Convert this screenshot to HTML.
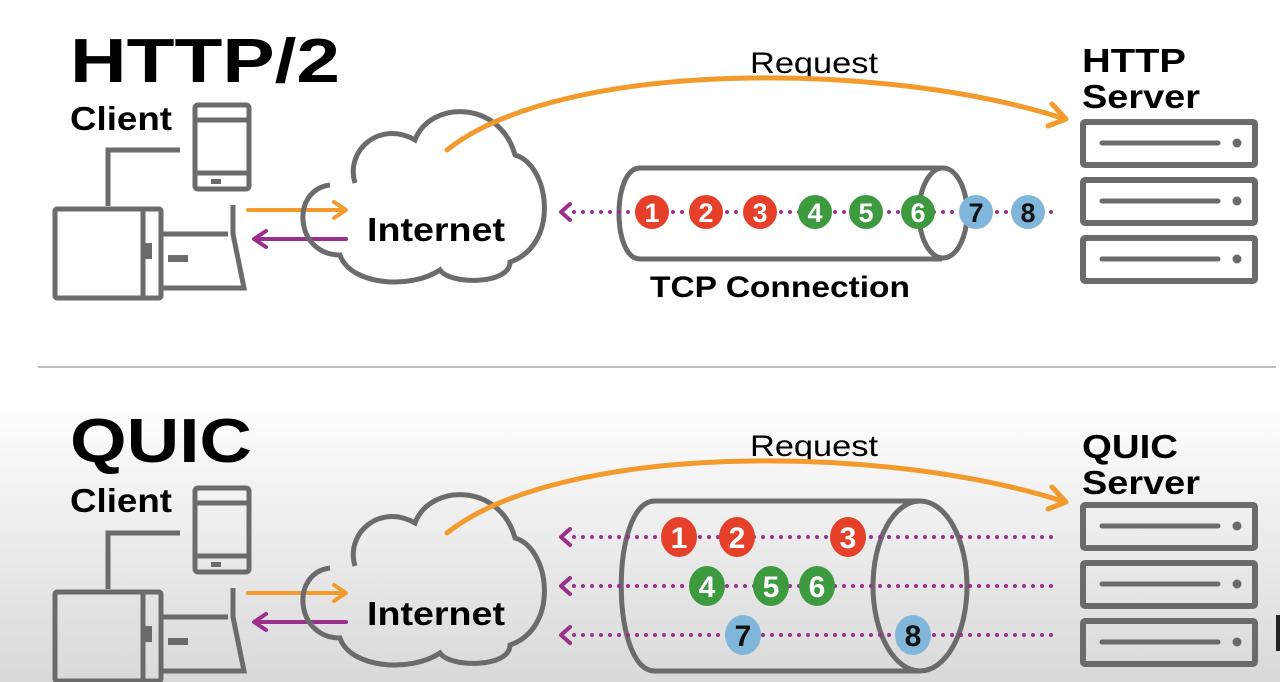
<!DOCTYPE html>
<html><head><meta charset="utf-8"><style>
html,body{margin:0;padding:0;width:1280px;height:682px;overflow:hidden;background:#fff}
svg{display:block}
text{font-family:"Liberation Sans",sans-serif}
</style></head><body>
<svg width="1280" height="682" viewBox="0 0 1280 682" xmlns="http://www.w3.org/2000/svg">
<defs>
<linearGradient id="bg" x1="0" y1="0" x2="0" y2="1">
<stop offset="0" stop-color="#ffffff"/><stop offset="1" stop-color="#d9d9d9"/>
</linearGradient>
<g id="client" fill="none" stroke="#6b6b6b" stroke-width="5">
<rect x="195" y="105" width="54" height="84" rx="3"/>
<line x1="195" y1="120" x2="249" y2="120"/>
<line x1="195" y1="173" x2="249" y2="173"/>
<rect x="211" y="179" width="10" height="5" fill="#6b6b6b" stroke="none"/>
<polyline points="180,150 108,150 108,206"/>
<rect x="55" y="209" width="106" height="89" rx="2"/>
<line x1="143" y1="209" x2="143" y2="298"/>
<rect x="143" y="243" width="9" height="16" fill="#6b6b6b" stroke="none"/>
<polyline points="163,234 228,234"/>
<polyline points="233,205 233,234 244,288 163,288"/>
<rect x="168" y="255" width="20" height="7" fill="#6b6b6b" stroke="none"/>
<path d="M248 210 H344 M334 202 L346 210 L334 218" stroke="#f39a2c" stroke-width="4" stroke-linecap="round" stroke-linejoin="round"/>
<path d="M346 239 H256 M266 231 L254 239 L266 247" stroke="#9b2f8c" stroke-width="4" stroke-linecap="round" stroke-linejoin="round"/>
<path d="M355 183 C345 150 380 120 415 140 C430 100 500 100 515 155 C550 165 560 245 510 262 C510 285 450 285 440 270 C410 290 350 285 340 255 C295 255 290 190 330 185" stroke="#6b6b6b" stroke-width="5"/>
</g>
<g id="server" fill="none" stroke="#6b6b6b" stroke-width="6">
<rect x="1083" y="122" width="172" height="43" rx="2"/>
<line x1="1102" y1="143" x2="1218" y2="143" stroke-linecap="round" stroke-width="5"/>
<circle cx="1237" cy="143" r="4.5" fill="#6b6b6b" stroke="none"/>
</g>
</defs>
<rect x="0" y="395" width="1280" height="287" fill="url(#bg)"/>
<line x1="38" y1="367" x2="1276" y2="367" stroke="#bdbdbd" stroke-width="2"/>

<!-- TOP -->
<text x="70" y="82" font-size="62" font-weight="bold" textLength="270" lengthAdjust="spacingAndGlyphs">HTTP/2</text>
<text x="70" y="130" font-size="33" font-weight="bold" textLength="102" lengthAdjust="spacingAndGlyphs">Client</text>
<use href="#client"/>
<text x="367" y="241" font-size="33" font-weight="bold" textLength="138" lengthAdjust="spacingAndGlyphs">Internet</text>
<text x="750" y="73" font-size="30" textLength="128" lengthAdjust="spacingAndGlyphs">Request</text>
<path d="M447 150 C560 60 880 60 1062 118" fill="none" stroke="#f39a2c" stroke-width="5" stroke-linecap="round"/>
<path d="M1052 104 L1066 119 L1048 126" fill="none" stroke="#f39a2c" stroke-width="5" stroke-linecap="round" stroke-linejoin="round"/>
<text x="1082" y="72" font-size="33" font-weight="bold" textLength="104" lengthAdjust="spacingAndGlyphs">HTTP</text>
<text x="1082" y="108" font-size="33" font-weight="bold" textLength="118" lengthAdjust="spacingAndGlyphs">Server</text>
<use href="#server"/>
<use href="#server" y="58"/>
<use href="#server" y="116"/>
<path d="M640 168 H942 M640 259 H942 M640 168 C612 168 612 259 640 259" fill="none" stroke="#6b6b6b" stroke-width="5"/>
<ellipse cx="943" cy="213" rx="24" ry="45" fill="none" stroke="#6b6b6b" stroke-width="5"/>
<line x1="574" y1="212" x2="1060" y2="212" stroke="#9b2f8c" stroke-width="4" stroke-dasharray="0 9" stroke-linecap="round"/>
<path d="M570 204 L561 212 L570 220" fill="none" stroke="#9b2f8c" stroke-width="4" stroke-linecap="round" stroke-linejoin="round"/>
<g font-size="27" font-weight="bold" text-anchor="middle">
<circle cx="652" cy="212" r="17" fill="#e6402a"/><text x="652" y="222" fill="#fff">1</text>
<circle cx="706" cy="212" r="17" fill="#e6402a"/><text x="706" y="222" fill="#fff">2</text>
<circle cx="760" cy="212" r="17" fill="#e6402a"/><text x="760" y="222" fill="#fff">3</text>
<circle cx="815" cy="212" r="17" fill="#3d9a3f"/><text x="815" y="222" fill="#fff">4</text>
<circle cx="866" cy="212" r="17" fill="#3d9a3f"/><text x="866" y="222" fill="#fff">5</text>
<circle cx="918" cy="212" r="17" fill="#3d9a3f"/><text x="918" y="222" fill="#fff">6</text>
<circle cx="976" cy="212" r="17" fill="#7fb6da"/><text x="976" y="222" fill="#111">7</text>
<circle cx="1028" cy="212" r="17" fill="#7fb6da"/><text x="1028" y="222" fill="#111">8</text>
</g>
<text x="650" y="297" font-size="30" font-weight="bold" textLength="260" lengthAdjust="spacingAndGlyphs">TCP Connection</text>

<!-- BOTTOM -->
<text x="70" y="462" font-size="62" font-weight="bold" textLength="182" lengthAdjust="spacingAndGlyphs">QUIC</text>
<text x="70" y="512" font-size="33" font-weight="bold" textLength="102" lengthAdjust="spacingAndGlyphs">Client</text>
<use href="#client" y="383"/>
<text x="367" y="625" font-size="33" font-weight="bold" textLength="138" lengthAdjust="spacingAndGlyphs">Internet</text>
<text x="750" y="456" font-size="30" textLength="128" lengthAdjust="spacingAndGlyphs">Request</text>
<path d="M447 533 C560 443 880 443 1062 501" fill="none" stroke="#f39a2c" stroke-width="5" stroke-linecap="round"/>
<path d="M1052 487 L1066 502 L1048 509" fill="none" stroke="#f39a2c" stroke-width="5" stroke-linecap="round" stroke-linejoin="round"/>
<text x="1082" y="458" font-size="33" font-weight="bold" textLength="96" lengthAdjust="spacingAndGlyphs">QUIC</text>
<text x="1082" y="494" font-size="33" font-weight="bold" textLength="118" lengthAdjust="spacingAndGlyphs">Server</text>
<use href="#server" y="383"/>
<use href="#server" y="441"/>
<use href="#server" y="499"/>
<path d="M655 501 H920 M655 671 H920 M655 501 C610 501 610 671 655 671" fill="none" stroke="#6b6b6b" stroke-width="5"/>
<ellipse cx="920" cy="586" rx="47" ry="85" fill="none" stroke="#6b6b6b" stroke-width="5"/>
<g stroke="#9b2f8c" stroke-width="4" stroke-linecap="round" fill="none" stroke-linejoin="round">
<line x1="574" y1="537" x2="1060" y2="537" stroke-dasharray="0 9"/>
<line x1="574" y1="586" x2="1060" y2="586" stroke-dasharray="0 9"/>
<line x1="574" y1="635" x2="1060" y2="635" stroke-dasharray="0 9"/>
<path d="M570 529 L561 537 L570 545 M570 578 L561 586 L570 594 M570 627 L561 635 L570 643"/>
</g>
<g font-size="30" font-weight="bold" text-anchor="middle">
<ellipse cx="679" cy="537" rx="18" ry="20" fill="#e6402a"/><text x="679" y="548" fill="#fff">1</text>
<ellipse cx="737" cy="537" rx="18" ry="20" fill="#e6402a"/><text x="737" y="548" fill="#fff">2</text>
<ellipse cx="848" cy="537" rx="18" ry="20" fill="#e6402a"/><text x="848" y="548" fill="#fff">3</text>
<ellipse cx="707" cy="586" rx="18" ry="20" fill="#3d9a3f"/><text x="707" y="597" fill="#fff">4</text>
<ellipse cx="771" cy="586" rx="18" ry="20" fill="#3d9a3f"/><text x="771" y="597" fill="#fff">5</text>
<ellipse cx="817" cy="586" rx="18" ry="20" fill="#3d9a3f"/><text x="817" y="597" fill="#fff">6</text>
<ellipse cx="743" cy="635" rx="18" ry="20" fill="#7fb6da"/><text x="743" y="646" fill="#111">7</text>
<ellipse cx="913" cy="635" rx="18" ry="20" fill="#7fb6da"/><text x="913" y="646" fill="#111">8</text>
</g>
<rect x="1276" y="615" width="4" height="36" fill="#222"/>
</svg>
</body></html>
